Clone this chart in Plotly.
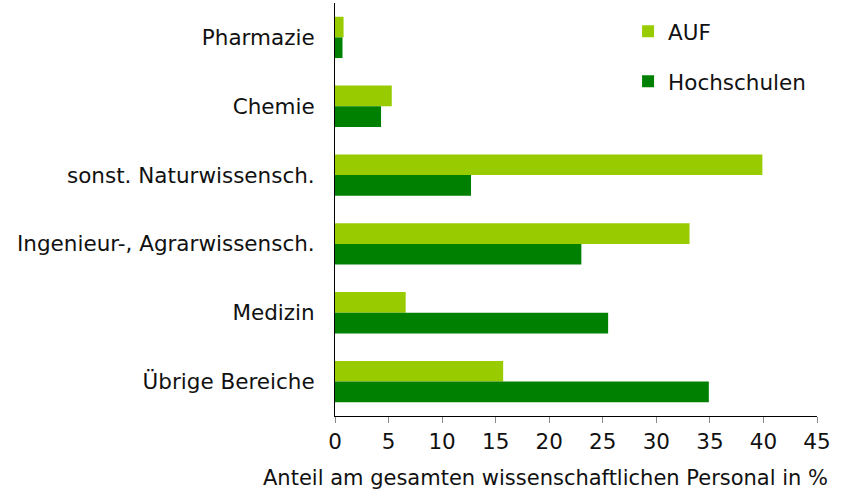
import plotly.graph_objects as go

categories = ["Pharmazie", "Chemie", "sonst. Naturwissensch.",
              "Ingenieur-, Agrarwissensch.", "Medizin", "Übrige Bereiche"]
auf = [0.8, 5.3, 39.9, 33.1, 6.6, 15.7]
hochschulen = [0.7, 4.3, 12.7, 23.0, 25.5, 34.9]
x_ticks = [0, 5, 10, 15, 20, 25, 30, 35, 40, 45]
x_title = "Anteil am gesamten wissenschaftlichen Personal in %"

FONT = "DejaVu Sans"
FS = 21.5

fig = go.Figure()
fig.add_trace(go.Bar(y=categories, x=auf, orientation="h", name="AUF",
                     marker=dict(color="#99CC00", line=dict(width=0)),
                     legendgroup="a"))
fig.add_trace(go.Bar(y=categories, x=hochschulen, orientation="h", name="Hochschulen",
                     marker=dict(color="#008000", line=dict(width=0)),
                     legendgroup="b"))

fig.update_layout(
    width=850, height=492,
    margin=dict(l=335, r=33, t=3, b=76),
    paper_bgcolor="white", plot_bgcolor="white",
    barmode="group", bargap=0.4, bargroupgap=0,
    font=dict(family=FONT, size=FS, color="#111111"),
    legend=dict(x=0.608, y=0.981, xanchor="left", yanchor="top",
                bgcolor="rgba(0,0,0,0)", font=dict(size=FS),
                itemwidth=30, traceorder="grouped", tracegroupgap=19),
    xaxis=dict(range=[0, 45], tickvals=x_ticks, showgrid=False, zeroline=False,
               showline=True, linecolor="black", linewidth=1,
               ticks="outside", ticklen=6, tickcolor="#888888",
               tickfont=dict(size=FS), automargin=False),
    yaxis=dict(autorange="reversed", showgrid=False, zeroline=False,
               showline=True, linecolor="black", linewidth=1,
               ticks="", ticklabelstandoff=15, tickfont=dict(size=FS),
               automargin=False),
    annotations=[dict(text=x_title, xref="paper", yref="paper",
                      x=(545 - 335) / (850 - 335 - 33), y=0, yshift=-62,
                      xanchor="center", yanchor="middle", showarrow=False,
                      font=dict(size=21))],
)

fig.write_html("out.html", config={"displayModeBar": False},
               post_script="document.body.style.margin='0';document.body.style.padding='0';")
